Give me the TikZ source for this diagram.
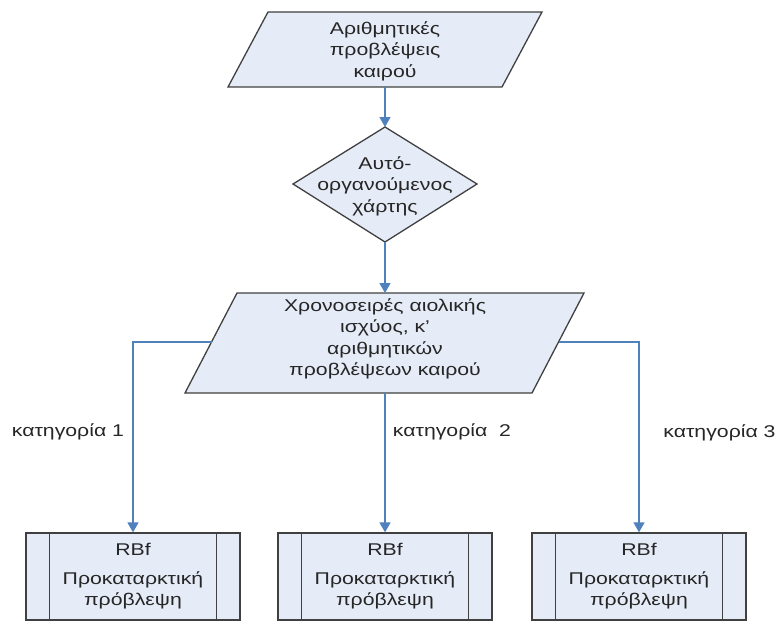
\documentclass[tikz,border=0pt]{standalone}
\usepackage{fontspec}
\setmainfont{Liberation Sans}[FakeStretch=1.25]
\usetikzlibrary{arrows.meta}
\definecolor{shapefill}{RGB}{230,236,247}
\definecolor{shapeline}{RGB}{64,64,64}
\definecolor{flowblue}{RGB}{79,129,189}
\begin{document}
\begin{tikzpicture}[x=1pt,y=-1pt,
  shapebox/.style={draw=shapeline,fill=shapefill,line width=1.3pt,line join=miter},
  txt/.style={font=\fontsize{17}{21.5}\selectfont,align=center,inner sep=0pt,text=black!85},
  flow/.style={draw=flowblue,line width=1.5pt,-{Triangle[width=11pt,length=10pt]}},
  procbox/.style={shapebox,txt,minimum width=214pt,minimum height=87pt}
]
\useasboundingbox (0,0) rectangle (783,623);

% input: numerical weather forecasts
\draw[shapebox] (268,12) -- (542,12) -- (502,87) -- (228,87) -- cycle;
\node[txt] (forecast) at (385,51) {Αριθμητικές\\προβλέψεις\\καιρού};
\coordinate (forecast-s) at (385,87);

% decision: self-organising map
\draw[shapebox] (385,127) -- (477,184) -- (385,242) -- (293,184) -- cycle;
\node[txt] (som) at (385,186) {Αυτό-\\οργανούμενος\\χάρτης};
\coordinate (som-n) at (385,127);
\coordinate (som-s) at (385,242);

% input: wind power and forecast time series
\draw[shapebox] (237,293) -- (584,293) -- (532,393) -- (185,393) -- cycle;
\node[txt] (series) at (385,339) {Χρονοσειρές αιολικής\\ισχύος, κ’\\αριθμητικών\\προβλέψεων καιρού};
\coordinate (series-n) at (385,293);
\coordinate (series-s) at (385,393);
\coordinate (series-w) at (211.5,342);
\coordinate (series-e) at (558.5,342);

% predefined processes: RBf preliminary forecasts
\foreach \name/\cx in {rbf1/133, rbf2/385, rbf3/639}{
  \node[procbox] (\name) at (\cx,576.5) {RBf\\[7pt]Προκαταρκτική\\πρόβλεψη};
  \draw[shapeline,line width=1.3pt]
    ([xshift=24pt]\name.north west) -- ([xshift=24pt]\name.south west)
    ([xshift=-24pt]\name.north east) -- ([xshift=-24pt]\name.south east);
}

% connectors
\draw[flow] (forecast-s) -- (som-n);
\draw[flow] (som-s) -- (series-n);
\draw[flow] (series-w) -| (rbf1.north);
\draw[flow] (series-s) -- (rbf2.north);
\draw[flow] (series-e) -| (rbf3.north);

% category labels
\node[txt] (cat1) at (68,432) {κατηγορία 1};
\node[txt] (cat2) at (452,432) {κατηγορία\ \ 2};
\node[txt] (cat3) at (719.5,433) {κατηγορία 3};
\end{tikzpicture}
\end{document}
